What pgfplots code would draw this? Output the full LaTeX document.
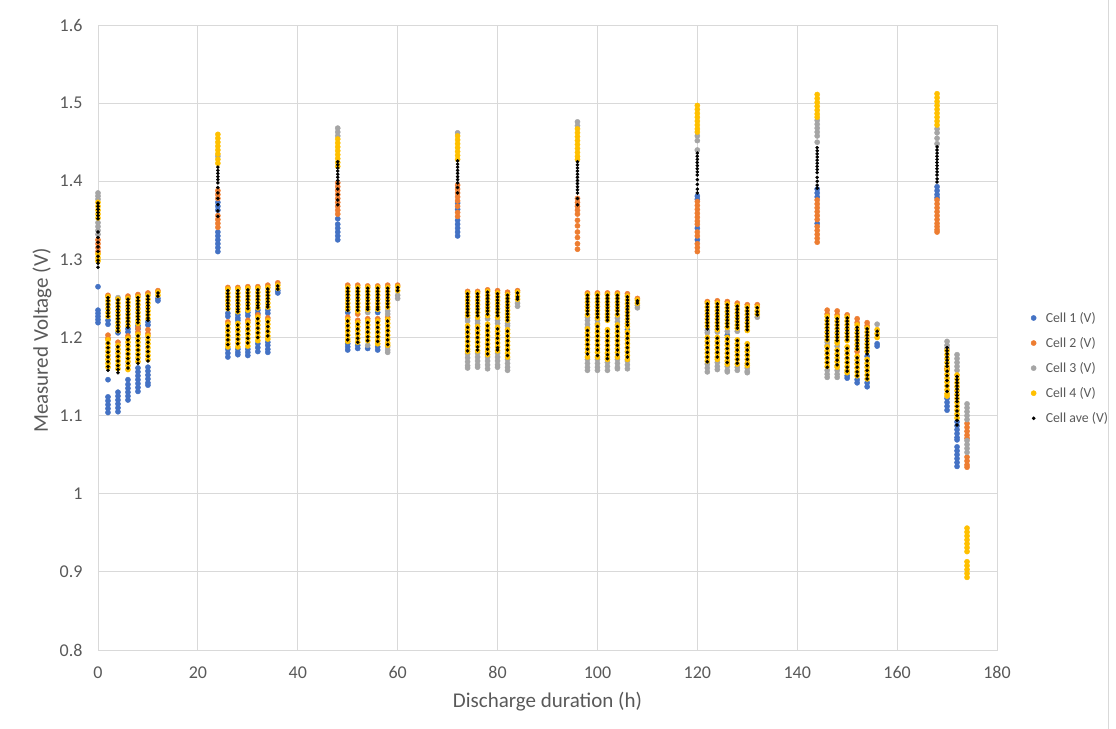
\documentclass[border=0pt]{standalone}
\usepackage{pgfplots}
\pgfplotsset{compat=1.18}
\usepackage{fontspec}
\setmainfont{Carlito}
\definecolor{cA}{HTML}{4472C4}
\definecolor{cB}{HTML}{ED7D31}
\definecolor{cC}{HTML}{A5A5A5}
\definecolor{cD}{HTML}{FFC000}
\definecolor{txt}{HTML}{595959}
\definecolor{grd}{HTML}{D9D9D9}
\begin{document}
\begin{tikzpicture}
\useasboundingbox (0,0) rectangle (1116bp,-729bp);
\draw[grd, line width=1bp] (1108bp,0) -- (1108bp,-729bp);
\begin{axis}[
 at={(98bp,-650bp)}, anchor=south west,
 scale only axis, width=899bp, height=625bp,
 xmin=0, xmax=180, ymin=0.8, ymax=1.6,
 clip=false,
 xtick={0,20,40,60,80,100,120,140,160,180},
 ytick={0.8,0.9,1,1.1,1.2,1.3,1.4,1.5,1.6},
 yticklabels={0.8,0.9,1,1.1,1.2,1.3,1.4,1.5,1.6},
 grid=major, major grid style={draw=grd, line width=1bp},
 axis line style={draw=grd, line width=1bp},
 major tick length=0pt,
 /pgf/number format/assume math mode=true,
 tick label style={font=\fontsize{18bp}{21bp}\selectfont, text=txt},
 xticklabel style={yshift=-13bp},
 yticklabel style={xshift=-12bp},
 xlabel={Discharge duration (h)}, ylabel={Measured Voltage (V)},
 label style={font=\fontsize{21bp}{25bp}\selectfont, text=txt},
 xlabel style={at={(axis description cs:0.5,-0.082)}, anchor=center},
 ylabel style={at={(axis description cs:-0.0623,0.495)}, anchor=center},
 legend style={at={(axis description cs:1,0.451)}, anchor=west, xshift=29bp, draw=none, fill=none,
   font=\fontsize{13.8bp}{16bp}\selectfont, text=txt, row sep=9.5bp},
 legend cell align=left,
 legend image code/.code={\path (0cm,0cm) (0.5cm,0cm); \draw[#1] plot coordinates {(0.15cm,0cm)};},
]
\addplot[only marks, mark=*, mark size=2.6bp, color=cA] coordinates {
(0,1.265)(0,1.235)(0,1.231)(0,1.227)(0,1.223)(0,1.219)
(2,1.222)(2,1.217)(2,1.146)(2,1.124)(2,1.119)(2,1.114)(2,1.109)(2,1.104)
(4,1.206)(4,1.130)(4,1.125)(4,1.120)(4,1.115)(4,1.110)(4,1.105)
(6,1.211)(6,1.207)(6,1.146)(6,1.140)(6,1.135)(6,1.130)(6,1.125)(6,1.120)
(8,1.215)(8,1.211)(8,1.161)(8,1.156)(8,1.151)(8,1.146)(8,1.141)(8,1.136)(8,1.131)
(10,1.220)(10,1.216)(10,1.162)(10,1.157)(10,1.152)(10,1.147)(10,1.142)(10,1.139)
(12,1.250)(12,1.247)
(24,1.373)(24,1.368)(24,1.363)(24,1.335)(24,1.330)(24,1.325)(24,1.320)(24,1.315)(24,1.310)
(26,1.231)(26,1.227)(26,1.185)(26,1.180)(26,1.175)
(28,1.229)(28,1.225)(28,1.222)(28,1.185)(28,1.181)(28,1.178)
(30,1.232)(30,1.228)(30,1.185)(30,1.181)(30,1.177)
(32,1.235)(32,1.231)(32,1.192)(32,1.187)(32,1.182)
(34,1.235)(34,1.231)(34,1.194)(34,1.190)(34,1.185)(34,1.181)
(36,1.260)(36,1.257)
(48,1.352)(48,1.345)(48,1.340)(48,1.335)(48,1.330)(48,1.325)
(50,1.232)(50,1.192)(50,1.188)(50,1.184)
(52,1.190)(52,1.186)
(54,1.186)
(56,1.232)(56,1.188)(56,1.184)
(72,1.372)(72,1.364)(72,1.350)(72,1.345)(72,1.340)(72,1.335)(72,1.330)
(106,1.210)
(120,1.381)(120,1.377)(120,1.340)(120,1.325)
(126,1.203)
(144,1.390)(144,1.385)(144,1.380)(144,1.346)
(150,1.151)(150,1.148)
(152,1.146)(152,1.142)
(154,1.176)(154,1.142)(154,1.137)
(156,1.192)(156,1.189)
(168,1.393)(168,1.388)(168,1.383)(168,1.379)
(170,1.122)(170,1.117)(170,1.112)(170,1.107)
(172,1.092)(172,1.087)(172,1.082)(172,1.077)(172,1.072)(172,1.069)(172,1.060)(172,1.055)(172,1.050)(172,1.045)(172,1.040)(172,1.035)
};
\addlegendentry{Cell 1 (V)}
\addplot[only marks, mark=*, mark size=2.6bp, color=cB] coordinates {
(0,1.325)(0,1.320)(0,1.315)(0,1.310)
(2,1.254)(2,1.203)(2,1.199)
(4,1.194)
(6,1.253)(6,1.202)
(8,1.255)(8,1.212)(8,1.207)
(10,1.257)(10,1.210)(10,1.205)
(12,1.260)
(24,1.388)(24,1.383)(24,1.378)(24,1.356)(24,1.351)(24,1.346)(24,1.341)
(26,1.264)(26,1.220)
(28,1.264)
(30,1.265)(30,1.222)
(32,1.265)(32,1.229)
(34,1.267)(34,1.225)
(36,1.270)
(48,1.398)(48,1.393)(48,1.388)(48,1.383)(48,1.378)(48,1.373)(48,1.368)(48,1.363)(48,1.358)
(50,1.267)(50,1.226)
(52,1.267)(52,1.230)(52,1.222)
(54,1.266)(54,1.224)
(56,1.266)(56,1.224)
(58,1.267)(58,1.226)
(60,1.267)
(72,1.395)(72,1.390)(72,1.385)(72,1.380)(72,1.375)(72,1.368)(72,1.360)(72,1.355)
(74,1.259)(76,1.259)(78,1.261)(80,1.260)(82,1.258)(84,1.260)
(96,1.378)(96,1.373)(96,1.368)(96,1.363)(96,1.358)(96,1.350)(96,1.343)(96,1.335)(96,1.328)(96,1.320)(96,1.313)
(98,1.257)(100,1.257)(102,1.257)(104,1.257)(106,1.256)(108,1.250)
(120,1.374)(120,1.369)(120,1.364)(120,1.359)(120,1.354)(120,1.349)(120,1.345)(120,1.335)(120,1.330)(120,1.320)(120,1.315)(120,1.310)
(122,1.246)(124,1.247)(126,1.246)(128,1.244)(130,1.242)(132,1.242)
(144,1.376)(144,1.371)(144,1.366)(144,1.361)(144,1.356)(144,1.351)(144,1.342)(144,1.337)(144,1.332)(144,1.327)(144,1.322)
(146,1.235)(146,1.230)
(148,1.234)(148,1.229)
(150,1.229)
(152,1.224)(152,1.219)(152,1.182)
(154,1.219)(154,1.215)
(168,1.376)(168,1.371)(168,1.366)(168,1.361)(168,1.356)(168,1.351)(168,1.346)(168,1.342)(168,1.338)(168,1.335)
(170,1.160)
(174,1.090)(174,1.085)(174,1.080)(174,1.075)(174,1.071)(174,1.047)(174,1.042)(174,1.037)(174,1.034)
};
\addlegendentry{Cell 2 (V)}
\addplot[only marks, mark=*, mark size=2.6bp, color=cC] coordinates {
(0,1.385)(0,1.381)(0,1.377)(0,1.347)(0,1.342)(0,1.337)(0,1.332)
(4,1.251)
(24,1.432)
(48,1.468)(48,1.463)(48,1.458)
(54,1.232)(54,1.190)
(58,1.234)(58,1.230)(58,1.188)(58,1.184)(58,1.181)
(60,1.254)(60,1.250)
(72,1.462)
(74,1.225)(74,1.221)(74,1.179)(74,1.174)(74,1.169)(74,1.164)(74,1.161)
(76,1.222)(76,1.218)(76,1.180)(76,1.175)(76,1.170)(76,1.165)(76,1.162)
(78,1.224)(78,1.175)(78,1.170)(78,1.165)(78,1.160)
(80,1.222)(80,1.218)(80,1.180)(80,1.175)(80,1.170)(80,1.165)(80,1.162)
(82,1.218)(82,1.215)(82,1.172)(82,1.167)(82,1.162)(82,1.158)
(84,1.244)(84,1.240)
(96,1.476)(96,1.471)
(98,1.226)(98,1.222)(98,1.217)(98,1.213)(98,1.172)(98,1.167)(98,1.162)(98,1.158)
(100,1.222)(100,1.218)(100,1.172)(100,1.167)(100,1.162)(100,1.158)
(102,1.168)(102,1.163)(102,1.158)
(104,1.225)(104,1.220)(104,1.172)(104,1.167)(104,1.162)(104,1.160)
(106,1.170)(106,1.165)(106,1.160)
(108,1.241)(108,1.238)
(120,1.458)(120,1.452)(120,1.440)
(122,1.209)(122,1.206)(122,1.166)(122,1.161)(122,1.156)
(124,1.207)(124,1.168)(124,1.163)(124,1.159)
(126,1.208)(126,1.163)(126,1.158)(126,1.156)
(128,1.208)(128,1.162)(128,1.158)
(130,1.161)(130,1.157)(130,1.155)
(132,1.226)
(144,1.478)(144,1.473)(144,1.468)(144,1.463)(144,1.458)(144,1.450)
(146,1.194)(146,1.190)(146,1.158)(146,1.153)(146,1.149)
(148,1.189)(148,1.158)(148,1.153)(148,1.149)
(156,1.217)
(168,1.467)(168,1.462)(168,1.455)(168,1.448)
(170,1.195)(170,1.190)(170,1.186)
(172,1.178)(172,1.173)(172,1.168)(172,1.163)(172,1.158)
(174,1.115)(174,1.110)(174,1.105)(174,1.100)(174,1.095)(174,1.068)(174,1.063)(174,1.058)(174,1.053)
};
\addlegendentry{Cell 3 (V)}
\addplot[only marks, mark=*, mark size=2.6bp, color=cD] coordinates {
(0,1.373)(0,1.368)(0,1.363)(0,1.358)(0,1.353)(0,1.307)(0,1.302)(0,1.298)
(2,1.252)(2,1.247)(2,1.242)(2,1.237)(2,1.232)(2,1.227)(2,1.197)(2,1.192)(2,1.187)(2,1.182)(2,1.177)(2,1.172)(2,1.167)(2,1.162)
(4,1.249)(4,1.244)(4,1.239)(4,1.234)(4,1.229)(4,1.224)(4,1.219)(4,1.214)(4,1.209)(4,1.190)(4,1.185)(4,1.180)(4,1.175)(4,1.170)(4,1.165)(4,1.160)
(6,1.250)(6,1.245)(6,1.240)(6,1.235)(6,1.230)(6,1.225)(6,1.220)(6,1.215)(6,1.199)(6,1.194)(6,1.189)(6,1.184)(6,1.179)(6,1.174)(6,1.169)(6,1.164)(6,1.159)
(8,1.252)(8,1.247)(8,1.242)(8,1.237)(8,1.232)(8,1.227)(8,1.222)(8,1.218)(8,1.204)(8,1.199)(8,1.194)(8,1.189)(8,1.184)(8,1.179)(8,1.174)(8,1.169)
(10,1.254)(10,1.249)(10,1.244)(10,1.239)(10,1.234)(10,1.229)(10,1.224)(10,1.202)(10,1.197)(10,1.192)(10,1.187)(10,1.182)(10,1.177)(10,1.172)
(12,1.258)(12,1.254)
(24,1.460)(24,1.455)(24,1.450)(24,1.445)(24,1.440)(24,1.435)(24,1.428)(24,1.423)
(26,1.262)(26,1.257)(26,1.252)(26,1.247)(26,1.242)(26,1.237)(26,1.217)(26,1.212)(26,1.207)(26,1.202)(26,1.197)(26,1.192)(26,1.188)
(28,1.262)(28,1.257)(28,1.252)(28,1.247)(28,1.242)(28,1.237)(28,1.233)(28,1.218)(28,1.213)(28,1.208)(28,1.203)(28,1.198)(28,1.193)(28,1.188)
(30,1.263)(30,1.258)(30,1.253)(30,1.248)(30,1.243)(30,1.238)(30,1.235)(30,1.219)(30,1.214)(30,1.209)(30,1.204)(30,1.199)(30,1.194)(30,1.189)
(32,1.263)(32,1.258)(32,1.253)(32,1.248)(32,1.243)(32,1.238)(32,1.226)(32,1.221)(32,1.216)(32,1.211)(32,1.206)(32,1.201)(32,1.196)
(34,1.264)(34,1.259)(34,1.254)(34,1.249)(34,1.244)(34,1.239)(34,1.222)(34,1.217)(34,1.212)(34,1.207)(34,1.202)(34,1.198)
(36,1.267)(36,1.263)
(48,1.454)(48,1.449)(48,1.444)(48,1.439)(48,1.434)(48,1.429)(48,1.424)(48,1.419)
(50,1.264)(50,1.259)(50,1.254)(50,1.249)(50,1.244)(50,1.239)(50,1.236)(50,1.223)(50,1.218)(50,1.213)(50,1.208)(50,1.203)(50,1.198)(50,1.195)
(52,1.264)(52,1.259)(52,1.254)(52,1.249)(52,1.244)(52,1.239)(52,1.234)(52,1.219)(52,1.214)(52,1.209)(52,1.204)(52,1.199)(52,1.194)
(54,1.264)(54,1.259)(54,1.254)(54,1.249)(54,1.244)(54,1.239)(54,1.236)(54,1.221)(54,1.216)(54,1.211)(54,1.206)(54,1.201)(54,1.196)
(56,1.264)(56,1.259)(56,1.254)(56,1.249)(56,1.244)(56,1.239)(56,1.236)(56,1.221)(56,1.216)(56,1.211)(56,1.206)(56,1.201)(56,1.196)(56,1.192)
(58,1.264)(58,1.259)(58,1.254)(58,1.249)(58,1.244)(58,1.239)(58,1.223)(58,1.218)(58,1.213)(58,1.208)(58,1.203)(58,1.198)(58,1.193)(58,1.190)
(60,1.265)(60,1.260)
(72,1.458)(72,1.453)(72,1.448)(72,1.443)(72,1.438)(72,1.433)(72,1.428)
(74,1.257)(74,1.252)(74,1.247)(74,1.242)(74,1.237)(74,1.232)(74,1.228)(74,1.215)(74,1.210)(74,1.205)(74,1.200)(74,1.195)(74,1.190)(74,1.185)(74,1.182)
(76,1.257)(76,1.252)(76,1.247)(76,1.242)(76,1.237)(76,1.232)(76,1.226)(76,1.214)(76,1.209)(76,1.204)(76,1.199)(76,1.194)(76,1.189)(76,1.183)
(78,1.259)(78,1.254)(78,1.249)(78,1.244)(78,1.239)(78,1.234)(78,1.228)(78,1.217)(78,1.212)(78,1.207)(78,1.202)(78,1.197)(78,1.192)(78,1.187)(78,1.182)(78,1.178)
(80,1.257)(80,1.252)(80,1.247)(80,1.242)(80,1.237)(80,1.232)(80,1.226)(80,1.213)(80,1.208)(80,1.203)(80,1.198)(80,1.193)(80,1.188)(80,1.183)
(82,1.255)(82,1.250)(82,1.245)(82,1.240)(82,1.235)(82,1.230)(82,1.226)(82,1.222)(82,1.210)(82,1.205)(82,1.200)(82,1.195)(82,1.190)(82,1.185)(82,1.180)(82,1.175)
(84,1.258)(84,1.253)(84,1.249)
(96,1.467)(96,1.462)(96,1.457)(96,1.452)(96,1.447)(96,1.442)(96,1.437)(96,1.432)(96,1.428)
(98,1.255)(98,1.250)(98,1.245)(98,1.240)(98,1.235)(98,1.229)(98,1.211)(98,1.206)(98,1.201)(98,1.196)(98,1.191)(98,1.186)(98,1.181)(98,1.175)
(100,1.255)(100,1.250)(100,1.245)(100,1.240)(100,1.235)(100,1.230)(100,1.225)(100,1.216)(100,1.211)(100,1.206)(100,1.201)(100,1.196)(100,1.191)(100,1.186)(100,1.181)(100,1.175)
(102,1.255)(102,1.250)(102,1.245)(102,1.240)(102,1.235)(102,1.230)(102,1.226)(102,1.222)(102,1.210)(102,1.205)(102,1.200)(102,1.195)(102,1.190)(102,1.185)(102,1.180)(102,1.175)(102,1.172)
(104,1.255)(104,1.250)(104,1.245)(104,1.240)(104,1.235)(104,1.229)(104,1.216)(104,1.211)(104,1.206)(104,1.201)(104,1.196)(104,1.191)(104,1.186)(104,1.181)(104,1.175)
(106,1.253)(106,1.248)(106,1.243)(106,1.238)(106,1.233)(106,1.228)(106,1.223)(106,1.218)(106,1.214)(106,1.207)(106,1.202)(106,1.197)(106,1.192)(106,1.187)(106,1.182)(106,1.177)(106,1.172)
(108,1.248)(108,1.244)
(120,1.497)(120,1.492)(120,1.487)(120,1.482)(120,1.477)(120,1.472)(120,1.467)(120,1.463)
(122,1.244)(122,1.239)(122,1.234)(122,1.229)(122,1.224)(122,1.219)(122,1.214)(122,1.200)(122,1.195)(122,1.190)(122,1.185)(122,1.180)(122,1.175)(122,1.170)
(124,1.244)(124,1.239)(124,1.234)(124,1.229)(124,1.224)(124,1.219)(124,1.214)(124,1.210)(124,1.200)(124,1.195)(124,1.190)(124,1.185)(124,1.180)(124,1.175)(124,1.172)
(126,1.243)(126,1.238)(126,1.233)(126,1.228)(126,1.223)(126,1.218)(126,1.213)(126,1.200)(126,1.195)(126,1.190)(126,1.185)(126,1.180)(126,1.175)(126,1.170)(126,1.166)
(128,1.241)(128,1.236)(128,1.231)(128,1.226)(128,1.221)(128,1.216)(128,1.212)(128,1.197)(128,1.192)(128,1.187)(128,1.182)(128,1.177)(128,1.172)(128,1.166)
(130,1.239)(130,1.234)(130,1.229)(130,1.224)(130,1.219)(130,1.214)(130,1.209)(130,1.192)(130,1.187)(130,1.182)(130,1.177)(130,1.172)(130,1.167)(130,1.164)
(132,1.239)(132,1.234)(132,1.230)
(144,1.511)(144,1.506)(144,1.501)(144,1.496)(144,1.491)(144,1.486)(144,1.482)
(146,1.227)(146,1.222)(146,1.217)(146,1.212)(146,1.207)(146,1.202)(146,1.197)(146,1.188)(146,1.183)(146,1.178)(146,1.173)(146,1.168)(146,1.163)
(148,1.226)(148,1.221)(148,1.216)(148,1.211)(148,1.206)(148,1.201)(148,1.196)(148,1.193)(148,1.184)(148,1.179)(148,1.174)(148,1.169)(148,1.164)(148,1.162)
(150,1.226)(150,1.221)(150,1.216)(150,1.211)(150,1.206)(150,1.201)(150,1.196)(150,1.188)(150,1.183)(150,1.178)(150,1.173)(150,1.168)(150,1.163)(150,1.158)(150,1.155)
(152,1.216)(152,1.211)(152,1.206)(152,1.201)(152,1.196)(152,1.191)(152,1.186)(152,1.176)(152,1.171)(152,1.166)(152,1.161)(152,1.156)(152,1.151)
(154,1.212)(154,1.207)(154,1.202)(154,1.197)(154,1.192)(154,1.187)(154,1.182)(154,1.172)(154,1.167)(154,1.162)(154,1.157)(154,1.152)(154,1.147)
(156,1.210)(156,1.205)(156,1.200)
(168,1.512)(168,1.507)(168,1.502)(168,1.497)(168,1.492)(168,1.487)(168,1.482)(168,1.477)(168,1.472)
(170,1.183)(170,1.178)(170,1.173)(170,1.168)(170,1.163)(170,1.158)(170,1.153)(170,1.148)(170,1.143)(170,1.138)(170,1.133)(170,1.128)(170,1.125)
(172,1.152)(172,1.147)(172,1.142)(172,1.137)(172,1.132)(172,1.127)(172,1.122)(172,1.117)(172,1.112)(172,1.107)(172,1.102)(172,1.097)
(174,0.956)(174,0.951)(174,0.946)(174,0.941)(174,0.936)(174,0.931)(174,0.926)(174,0.913)(174,0.908)(174,0.903)(174,0.898)(174,0.893)
};
\addlegendentry{Cell 4 (V)}
\addplot[only marks, mark=*, mark size=1.6bp, color=black] coordinates {
(0,1.372)(0,1.368)(0,1.364)(0,1.360)(0,1.356)(0,1.352)(0,1.335)(0,1.328)(0,1.322)(0,1.316)(0,1.310)(0,1.304)(0,1.299)(0,1.295)(0,1.290)
(2,1.251)(2,1.247)(2,1.243)(2,1.239)(2,1.235)(2,1.231)(2,1.227)(2,1.193)(2,1.187)(2,1.181)(2,1.175)(2,1.169)(2,1.163)(2,1.158)
(4,1.248)(4,1.244)(4,1.240)(4,1.236)(4,1.232)(4,1.228)(4,1.224)(4,1.220)(4,1.216)(4,1.212)(4,1.208)(4,1.188)(4,1.182)(4,1.176)(4,1.170)(4,1.164)(4,1.159)(4,1.155)
(6,1.249)(6,1.245)(6,1.241)(6,1.237)(6,1.233)(6,1.229)(6,1.225)(6,1.221)(6,1.217)(6,1.213)(6,1.197)(6,1.191)(6,1.185)(6,1.179)(6,1.173)(6,1.167)(6,1.161)
(8,1.251)(8,1.247)(8,1.243)(8,1.239)(8,1.235)(8,1.231)(8,1.227)(8,1.223)(8,1.219)(8,1.202)(8,1.196)(8,1.190)(8,1.184)(8,1.178)(8,1.172)(8,1.167)
(10,1.253)(10,1.249)(10,1.245)(10,1.241)(10,1.237)(10,1.233)(10,1.229)(10,1.225)(10,1.222)(10,1.200)(10,1.194)(10,1.188)(10,1.182)(10,1.176)(10,1.170)
(12,1.257)(12,1.253)
(24,1.418)(24,1.414)(24,1.410)(24,1.406)(24,1.402)(24,1.398)(24,1.392)(24,1.385)(24,1.378)(24,1.370)(24,1.362)(24,1.355)
(26,1.260)(26,1.256)(26,1.252)(26,1.248)(26,1.244)(26,1.240)(26,1.236)(26,1.215)(26,1.209)(26,1.203)(26,1.197)(26,1.191)
(28,1.260)(28,1.256)(28,1.252)(28,1.248)(28,1.244)(28,1.240)(28,1.236)(28,1.233)(28,1.216)(28,1.210)(28,1.204)(28,1.198)(28,1.192)
(30,1.261)(30,1.257)(30,1.253)(30,1.249)(30,1.245)(30,1.241)(30,1.237)(30,1.217)(30,1.211)(30,1.205)(30,1.199)(30,1.193)
(32,1.261)(32,1.257)(32,1.253)(32,1.249)(32,1.245)(32,1.241)(32,1.238)(32,1.224)(32,1.218)(32,1.212)(32,1.206)(32,1.200)
(34,1.262)(34,1.258)(34,1.254)(34,1.250)(34,1.246)(34,1.242)(34,1.239)(34,1.220)(34,1.214)(34,1.208)(34,1.202)
(36,1.266)(36,1.262)
(48,1.425)(48,1.421)(48,1.417)(48,1.413)(48,1.409)(48,1.405)(48,1.401)(48,1.397)(48,1.390)(48,1.383)(48,1.376)(48,1.370)
(50,1.263)(50,1.259)(50,1.255)(50,1.251)(50,1.247)(50,1.243)(50,1.239)(50,1.235)(50,1.221)(50,1.215)(50,1.209)(50,1.203)(50,1.197)
(52,1.263)(52,1.259)(52,1.255)(52,1.251)(52,1.247)(52,1.243)(52,1.239)(52,1.235)(52,1.217)(52,1.211)(52,1.205)(52,1.199)(52,1.194)
(54,1.263)(54,1.259)(54,1.255)(54,1.251)(54,1.247)(54,1.243)(54,1.239)(54,1.236)(54,1.219)(54,1.213)(54,1.207)(54,1.201)(54,1.196)
(56,1.263)(56,1.259)(56,1.255)(56,1.251)(56,1.247)(56,1.243)(56,1.239)(56,1.236)(56,1.219)(56,1.213)(56,1.207)(56,1.201)(56,1.195)
(58,1.263)(58,1.259)(58,1.255)(58,1.251)(58,1.247)(58,1.243)(58,1.239)(58,1.221)(58,1.215)(58,1.209)(58,1.203)(58,1.197)(58,1.191)
(60,1.264)(60,1.260)
(72,1.426)(72,1.422)(72,1.418)(72,1.414)(72,1.410)(72,1.406)(72,1.402)(72,1.398)(72,1.392)(72,1.385)
(74,1.256)(74,1.252)(74,1.248)(74,1.244)(74,1.240)(74,1.236)(74,1.232)(74,1.228)(74,1.213)(74,1.207)(74,1.201)(74,1.195)(74,1.189)(74,1.183)
(76,1.256)(76,1.252)(76,1.248)(76,1.244)(76,1.240)(76,1.236)(76,1.232)(76,1.228)(76,1.212)(76,1.206)(76,1.200)(76,1.194)(76,1.188)(76,1.184)
(78,1.258)(78,1.254)(78,1.250)(78,1.246)(78,1.242)(78,1.238)(78,1.234)(78,1.230)(78,1.215)(78,1.209)(78,1.203)(78,1.197)(78,1.191)(78,1.185)(78,1.179)
(80,1.256)(80,1.252)(80,1.248)(80,1.244)(80,1.240)(80,1.236)(80,1.232)(80,1.228)(80,1.211)(80,1.205)(80,1.199)(80,1.193)(80,1.187)(80,1.184)
(82,1.254)(82,1.250)(82,1.246)(82,1.242)(82,1.238)(82,1.234)(82,1.230)(82,1.226)(82,1.222)(82,1.208)(82,1.202)(82,1.196)(82,1.190)(82,1.184)(82,1.177)
(84,1.257)(84,1.252)(84,1.249)
(96,1.425)(96,1.421)(96,1.417)(96,1.413)(96,1.409)(96,1.405)(96,1.401)(96,1.397)(96,1.393)(96,1.389)(96,1.385)(96,1.378)(96,1.370)
(98,1.254)(98,1.250)(98,1.246)(98,1.242)(98,1.238)(98,1.234)(98,1.230)(98,1.209)(98,1.203)(98,1.197)(98,1.191)(98,1.185)(98,1.179)
(100,1.254)(100,1.250)(100,1.246)(100,1.242)(100,1.238)(100,1.234)(100,1.230)(100,1.226)(100,1.214)(100,1.208)(100,1.202)(100,1.196)(100,1.190)(100,1.184)(100,1.177)
(102,1.254)(102,1.250)(102,1.246)(102,1.242)(102,1.238)(102,1.234)(102,1.230)(102,1.226)(102,1.222)(102,1.208)(102,1.202)(102,1.196)(102,1.190)(102,1.184)(102,1.178)(102,1.173)
(104,1.254)(104,1.250)(104,1.246)(104,1.242)(104,1.238)(104,1.234)(104,1.230)(104,1.214)(104,1.208)(104,1.202)(104,1.196)(104,1.190)(104,1.184)(104,1.178)
(106,1.252)(106,1.248)(106,1.244)(106,1.240)(106,1.236)(106,1.232)(106,1.228)(106,1.224)(106,1.220)(106,1.216)(106,1.205)(106,1.199)(106,1.193)(106,1.187)(106,1.181)(106,1.175)
(108,1.247)(108,1.244)
(120,1.436)(120,1.432)(120,1.428)(120,1.424)(120,1.420)(120,1.416)(120,1.412)(120,1.408)(120,1.402)(120,1.396)(120,1.390)(120,1.385)
(122,1.243)(122,1.239)(122,1.235)(122,1.231)(122,1.227)(122,1.223)(122,1.219)(122,1.215)(122,1.211)(122,1.199)(122,1.193)(122,1.187)(122,1.181)(122,1.175)(122,1.169)
(124,1.243)(124,1.239)(124,1.235)(124,1.231)(124,1.227)(124,1.223)(124,1.219)(124,1.215)(124,1.211)(124,1.199)(124,1.193)(124,1.187)(124,1.181)(124,1.175)
(126,1.242)(126,1.238)(126,1.234)(126,1.230)(126,1.226)(126,1.222)(126,1.218)(126,1.214)(126,1.198)(126,1.192)(126,1.186)(126,1.180)(126,1.174)(126,1.168)
(128,1.240)(128,1.236)(128,1.232)(128,1.228)(128,1.224)(128,1.220)(128,1.216)(128,1.212)(128,1.196)(128,1.190)(128,1.184)(128,1.178)(128,1.172)(128,1.167)
(130,1.238)(130,1.234)(130,1.230)(130,1.226)(130,1.222)(130,1.218)(130,1.214)(130,1.210)(130,1.190)(130,1.184)(130,1.178)(130,1.172)(130,1.166)
(132,1.238)(132,1.233)(132,1.229)
(144,1.443)(144,1.439)(144,1.435)(144,1.431)(144,1.427)(144,1.423)(144,1.419)(144,1.415)(144,1.411)(144,1.405)(144,1.400)(144,1.395)(144,1.391)
(146,1.225)(146,1.221)(146,1.217)(146,1.213)(146,1.209)(146,1.205)(146,1.201)(146,1.197)(146,1.186)(146,1.180)(146,1.174)(146,1.168)(146,1.162)
(148,1.224)(148,1.220)(148,1.216)(148,1.212)(148,1.208)(148,1.204)(148,1.200)(148,1.196)(148,1.183)(148,1.177)(148,1.171)(148,1.165)
(150,1.225)(150,1.221)(150,1.217)(150,1.213)(150,1.209)(150,1.205)(150,1.201)(150,1.197)(150,1.186)(150,1.180)(150,1.174)(150,1.168)(150,1.162)(150,1.157)
(152,1.213)(152,1.209)(152,1.205)(152,1.201)(152,1.197)(152,1.193)(152,1.189)(152,1.185)(152,1.174)(152,1.168)(152,1.162)(152,1.156)(152,1.151)
(154,1.211)(154,1.207)(154,1.203)(154,1.199)(154,1.195)(154,1.191)(154,1.187)(154,1.183)(154,1.179)(154,1.170)(154,1.164)(154,1.158)(154,1.152)(154,1.147)
(156,1.208)(156,1.203)
(168,1.444)(168,1.440)(168,1.436)(168,1.432)(168,1.428)(168,1.424)(168,1.420)(168,1.416)(168,1.412)(168,1.408)(168,1.403)(168,1.399)
(170,1.187)(170,1.183)(170,1.179)(170,1.175)(170,1.171)(170,1.167)(170,1.163)(170,1.157)(170,1.151)(170,1.145)(170,1.138)(170,1.131)
(172,1.150)(172,1.146)(172,1.142)(172,1.138)(172,1.134)(172,1.130)(172,1.126)(172,1.122)(172,1.118)(172,1.112)(172,1.106)(172,1.100)(172,1.094)(172,1.088)
};
\addlegendentry{Cell ave (V)}
\end{axis}
\end{tikzpicture}
\end{document}
